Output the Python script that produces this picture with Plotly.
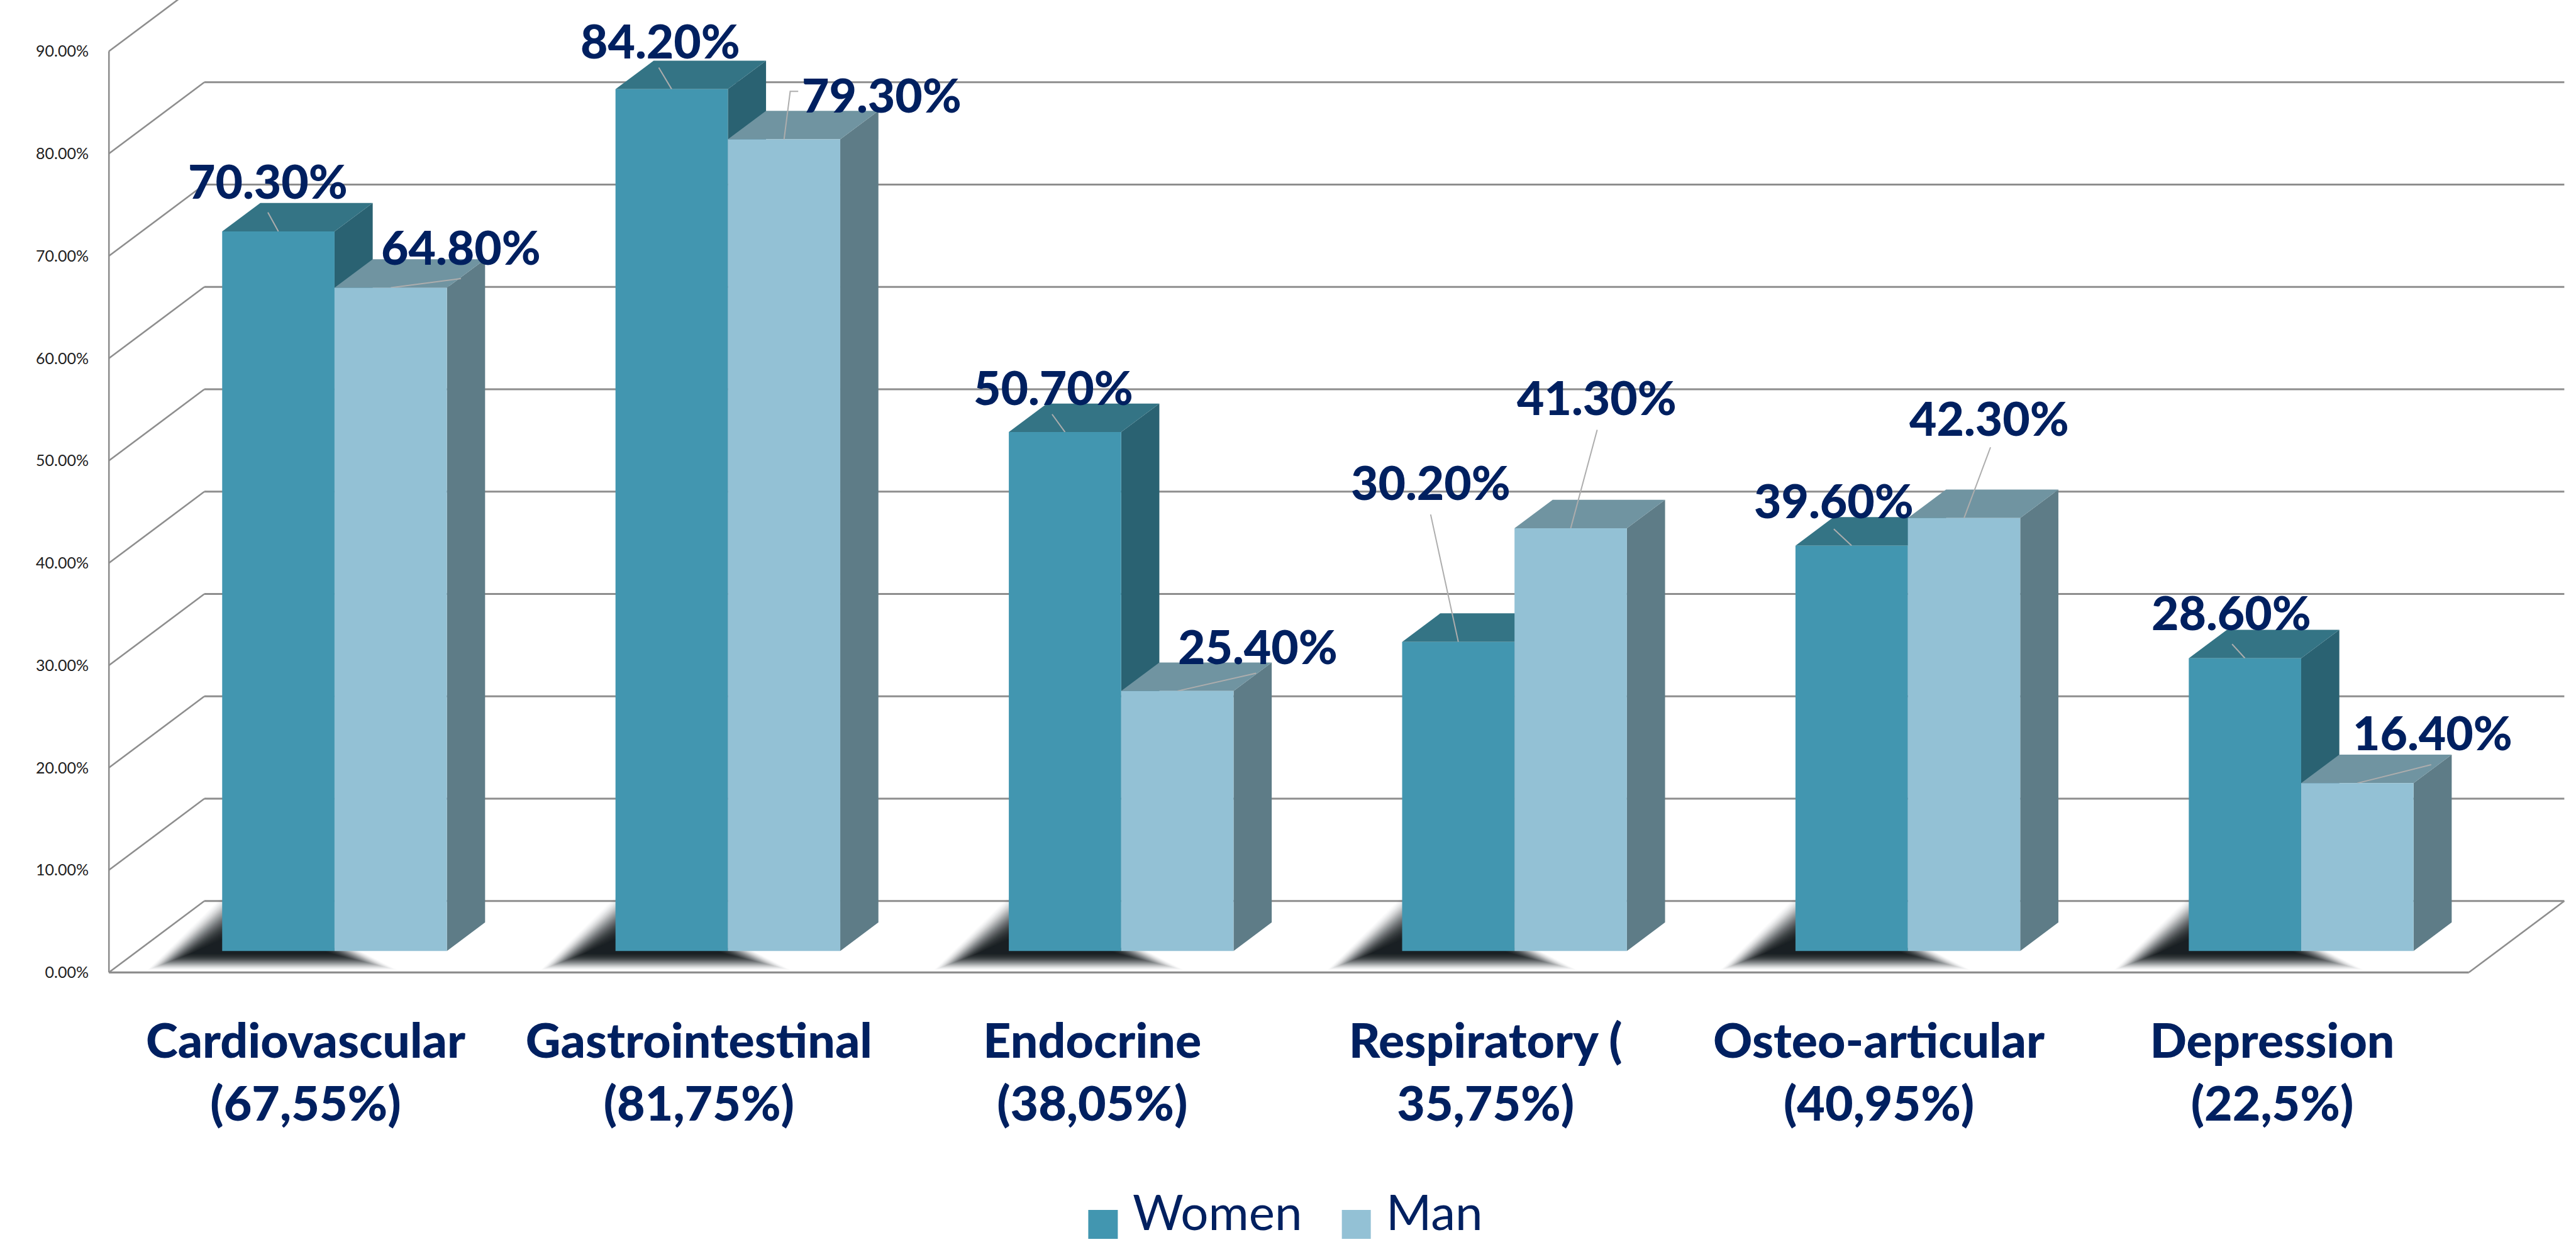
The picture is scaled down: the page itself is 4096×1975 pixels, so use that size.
import plotly.graph_objects as go

# ---------- data ----------
categories = ["Cardiovascular<br>(67,55%)", "Gastrointestinal<br>(81,75%)", "Endocrine<br>(38,05%)",
              "Respiratory (<br>35,75%)", "Osteo-articular<br>(40,95%)", "Depression<br>(22,5%)"]
women = [70.3, 84.2, 50.7, 30.2, 39.6, 28.6]
man = [64.8, 79.3, 25.4, 41.3, 42.3, 16.4]
y_ticks = [0, 10, 20, 30, 40, 50, 60, 70, 80, 90]
y_tick_labels = ["0.00%", "10.00%", "20.00%", "30.00%", "40.00%", "50.00%", "60.00%", "70.00%", "80.00%", "90.00%"]
series_names = ["Women", "Man"]

# ---------- layout constants (reference pixels) ----------
REF_W, REF_H = 4185, 2018
FIG_W, FIG_H = 4096, 1975
X0_PX, Y0_PX = 177, 1580
CAT_PX, UNIT_PX = 639, 16.63
DX = 155 / CAT_PX
DY = 116 / UNIT_PX
Z0, Z1 = 0.30, 0.70
BAR_START, BAR_W = 0.2151, 0.2857

NAVY = "#002060"
GRID = "#8E8E8E"
LEADER = "#ADADAD"
W_FRONT, W_TOP, W_SIDE = "#4296B0", "#347485", "#2A6272"
M_FRONT, M_TOP, M_SIDE = "#93C1D5", "#7094A1", "#5E7C87"
FONT = "Lato"

# label centre and leader end, as pixel offsets from each bar's front-top centre
w_label_off = [(-17, -83), (-18, -80), (-19, -74), (-45, -260), (-29, -74), (-22, -75)]
m_label_off = [(114, -67), (159, -73), (131, -73), (42, -214), (41, -163), (122, -83)]
w_leader = [[(-17, -31)], [(-21, -35)], [(-21, -29)], [(-45, -207)], [(-29, -27)], [(-21, -23)]]
m_leader = [[(114, -15)], [(10, -78), (23, -78)], [(128, -29)], [(43, -160)], [(43, -115)], [(120, -30)]]

LABEL_SIZE = 75
CAT_SIZE = 77
TICK_SIZE = 25
LEGEND_SIZE = 78
HEAVY = 900


def project(x, v, z):
    return x + z * DX, v + z * DY


def poly(points, color):
    xs, ys = zip(*(project(*p) for p in points))
    return go.Scatter(x=list(xs) + [xs[0]], y=list(ys) + [ys[0]], mode="lines", fill="toself",
                      fillcolor=color, line=dict(width=0, color=color),
                      hoverinfo="skip", showlegend=False)


def line(xs, ys, color=GRID, width=2.6):
    return go.Scatter(x=xs, y=ys, mode="lines", line=dict(color=color, width=width),
                      hoverinfo="skip", showlegend=False)


fig = go.Figure()

# walls and floor
top_y = Y0_PX / UNIT_PX
x_end = (REF_W - X0_PX) / CAT_PX
n_cat = len(categories)
for t in y_ticks:
    bx, by = project(0, t, 1)
    fig.add_trace(line([0, bx], [t, by]))
    fig.add_trace(line([bx, n_cat + DX], [by, by], width=3))
fig.add_trace(line([0, 0], [0, max(y_ticks)]))
fig.add_trace(line([0, n_cat], [0, 0], width=3.4))
fig.add_trace(line([n_cat, n_cat + DX], [0, DY]))

# soft floor shadows: nested translucent shapes
outer = [(-122, 31), (285, 31), (215, -5), (20, -5), (20, -108)]
inner = [(-50, 4), (175, 4), (155, -5), (20, -5), (20, -28)]
STEPS = 30
for i in range(n_cat):
    bx = i + BAR_START
    for k in range(STEPS):
        t = k / (STEPS - 1)
        pts = []
        for (ox, oy), (ix, iy) in zip(outer, inner):
            px = ox + (ix - ox) * t
            py = oy + (iy - oy) * t
            pts.append((bx + px / CAT_PX, -py / UNIT_PX, Z0))
        alpha = 0.012 + 0.17 * t
        fig.add_trace(poly(pts, f"rgba(18,24,27,{alpha:.3f})"))


def faces(x0, x1, v, top, side):
    fig.add_trace(poly([(x1, 0, Z0), (x1, v, Z0), (x1, v, Z1), (x1, 0, Z1)], side))
    fig.add_trace(poly([(x0, v, Z0), (x1, v, Z0), (x1, v, Z1), (x0, v, Z1)], top))


for i in range(n_cat):
    x0 = i + BAR_START
    x1 = x0 + BAR_W
    x2 = x1 + BAR_W
    faces(x0, x1, women[i], W_TOP, W_SIDE)
    faces(x1, x2, man[i], M_TOP, M_SIDE)

# front faces are real bars on an overlaid subplot, so they hide what lies behind them
shift = Z0 * DX
for name, vals, off, color in ((series_names[0], women, 0, W_FRONT), (series_names[1], man, BAR_W, M_FRONT)):
    fig.add_trace(go.Bar(x=[i + BAR_START + off + BAR_W / 2 + shift for i in range(n_cat)], y=vals,
                         base=[Z0 * DY] * n_cat, width=BAR_W, marker=dict(color=color, line=dict(width=0)),
                         name=name, xaxis="x2", yaxis="y2", showlegend=False))

# leaders and value labels
annotations = []
for vals, off, lab_off, leaders in ((women, 0, w_label_off, w_leader), (man, BAR_W, m_label_off, m_leader)):
    for i, v in enumerate(vals):
        cx, cy = project(i + BAR_START + off + BAR_W / 2, v, Z0)
        xs, ys = [cx], [cy]
        for dx, dy in leaders[i]:
            xs.append(cx + dx / CAT_PX)
            ys.append(cy - dy / UNIT_PX)
        fig.add_trace(line(xs, ys, color=LEADER, width=2))
        dx, dy = lab_off[i]
        annotations.append(dict(x=cx + dx / CAT_PX, y=cy - dy / UNIT_PX, xref="x", yref="y",
                                text=f"{v:.2f}%", showarrow=False, xanchor="center", yanchor="middle",
                                font=dict(family=FONT, size=LABEL_SIZE, color=NAVY, weight=HEAVY)))

# legend (swatches larger than Plotly's native legend allows)
shapes = []
legend_items = [(series_names[0], W_FRONT, 1768, 1816, 1838), (series_names[1], M_FRONT, 2180, 2227, 2250)]
for name, color, sx0, sx1, tx in legend_items:
    shapes.append(dict(type="rect", xref="paper", yref="paper", x0=sx0 / REF_W, x1=sx1 / REF_W,
                       y0=1 - 2013 / REF_H, y1=1 - 1966 / REF_H, fillcolor=color, line=dict(width=0)))
    annotations.append(dict(x=tx / REF_W, y=1 - 1968 / REF_H, xref="paper", yref="paper", text=name,
                            showarrow=False, xanchor="left", yanchor="middle",
                            font=dict(family=FONT, size=LEGEND_SIZE, color=NAVY)))

PAD_X, PAD_Y = 0.01, 1.0
x_range = [-PAD_X, x_end]
y_range = [-PAD_Y, top_y]
x_dom = [(X0_PX - PAD_X * CAT_PX) / REF_W, 1]
y_dom = [(REF_H - Y0_PX - PAD_Y * UNIT_PX) / REF_H, 1]

fig.update_layout(
    width=FIG_W, height=FIG_H, autosize=False, margin=dict(l=0, r=0, t=0, b=0),
    paper_bgcolor="white", plot_bgcolor="white", showlegend=False, barmode="overlay",
    annotations=annotations, shapes=shapes,
    xaxis=dict(domain=x_dom, range=x_range, tickmode="array", tickvals=[i + 0.5 for i in range(n_cat)],
               ticktext=categories, showgrid=False, zeroline=False, showline=False, ticks="outside",
               ticklen=26, tickcolor="rgba(0,0,0,0)", tickfont=dict(family=FONT, size=CAT_SIZE, color=NAVY, weight=HEAVY)),
    yaxis=dict(domain=y_dom, range=y_range, tickmode="array", tickvals=y_ticks, ticktext=y_tick_labels,
               showgrid=False, zeroline=False, showline=False, ticks="outside", ticklen=20,
               tickcolor="rgba(0,0,0,0)", tickfont=dict(family=FONT, size=TICK_SIZE, color="#222222")),
    xaxis2=dict(domain=x_dom, range=x_range, overlaying="x", visible=False),
    yaxis2=dict(domain=y_dom, range=y_range, overlaying="y", visible=False),
)

fig.write_html("out.html", config={"displayModeBar": False},
               post_script="document.body.style.margin='0';document.body.style.overflow='hidden';")
